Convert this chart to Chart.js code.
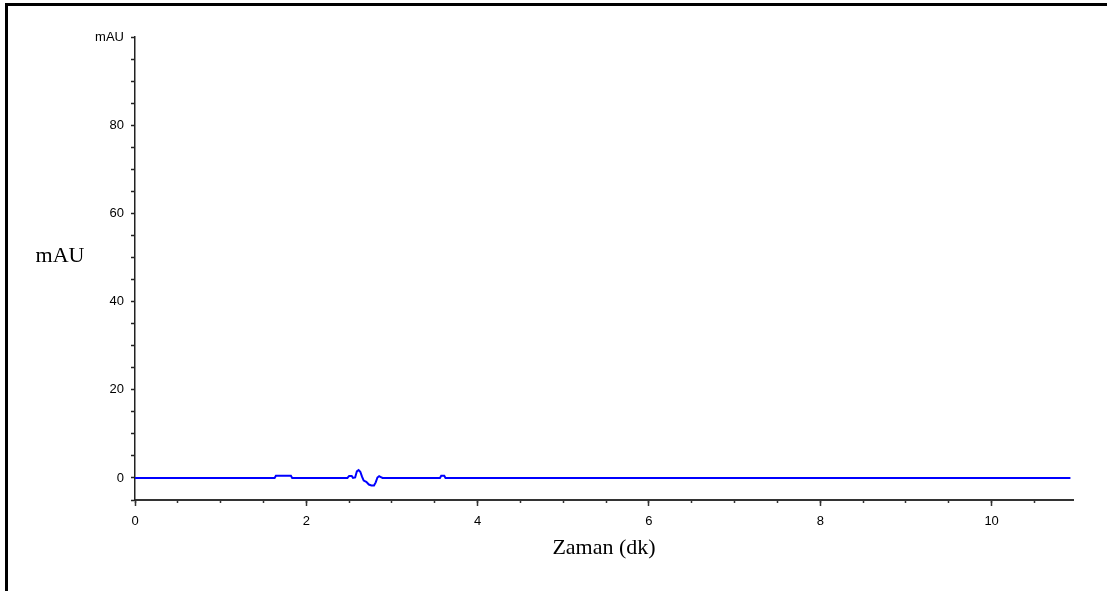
<!DOCTYPE html>
<html>
<head>
<meta charset="utf-8">
<title>Kromatogram</title>
<script src="https://cdn.jsdelivr.net/npm/chart.js@4.4.1/dist/chart.umd.min.js"></script>
<style>
  html, body { margin: 0; padding: 0; background: #fff; }
  #wrap { position: relative; width: 1107px; height: 591px; overflow: hidden; }
  #frame {
    position: absolute; left: 5px; top: 3px; right: -10px; bottom: -10px;
    border-top: 3px solid #000; border-left: 3px solid #000;
  }
  #chart { position: absolute; left: 0; top: 0; }
</style>
</head>
<body>
<div id="wrap">
  <div id="frame"></div>
  <canvas id="chart" width="1107" height="591"></canvas>
</div>
<script>
// ---------- data ----------
const timeMin = [
  0, 1.63, 1.645, 1.82, 1.835, 2.48, 2.50, 2.53, 2.545, 2.57,
  2.59, 2.61, 2.63, 2.65, 2.67, 2.70, 2.73, 2.76, 2.79, 2.81,
  2.83, 2.85, 2.87, 2.89, 3.56, 3.575, 3.61, 3.625, 10.92
];
const signalMau = [
  0, 0, 0.5, 0.5, 0, 0, 0.45, 0.45, 0, 0.1,
  1.5, 1.8, 1.4, 0.3, -0.6, -0.9, -1.5, -1.7, -1.7, -1.0,
  0.1, 0.4, 0.2, 0, 0, 0.5, 0.5, 0, 0
];
const xMin = 0;
const xMax = 10.95;
const yMin = -5;
const yMax = 100;
const yLabelStep = 20;
const xLabelStep = 2;

// ---------- helpers ----------
const points = timeMin.map((t, i) => ({ x: t, y: signalMau[i] }));

// horizontal y axis title (the chart keeps "mAU" upright, left of the axis)
const sideTitle = {
  id: 'sideTitle',
  afterDraw(chart) {
    const ctx = chart.ctx;
    ctx.save();
    ctx.font = '22px "Liberation Serif", "Times New Roman", serif';
    ctx.fillStyle = '#000';
    ctx.textAlign = 'center';
    ctx.textBaseline = 'middle';
    ctx.fillText('mAU', 60, 256);
    ctx.restore();
  }
};

const tickFont = { family: '"Liberation Sans", Arial, sans-serif', size: 13 };

new Chart(document.getElementById('chart'), {
  type: 'line',
  data: {
    datasets: [{
      data: points,
      borderColor: '#0000ff',
      borderWidth: 2,
      pointRadius: 0,
      tension: 0,
      fill: false
    }]
  },
  options: {
    responsive: false,
    animation: false,
    layout: { padding: { left: 0, right: 34, top: 37, bottom: 0 } },
    plugins: { legend: { display: false }, tooltip: { enabled: false } },
    scales: {
      x: {
        type: 'linear',
        position: 'bottom',
        min: xMin,
        max: xMax,
        border: { display: true, color: '#333', width: 2 },
        grid: { drawOnChartArea: false, tickLength: 3, color: '#333', tickWidth: 1.5 },
        ticks: { stepSize: 0.5, includeBounds: false, display: false },
        afterFit(scale) { scale.height = 0; }
      },
      x2: {
        type: 'linear',
        position: 'bottom',
        min: xMin,
        max: xMax,
        border: { display: true, color: '#333', width: 2 },
        grid: { drawOnChartArea: false, tickLength: 6, color: '#333', tickWidth: 1.5 },
        ticks: {
          stepSize: xLabelStep,
          includeBounds: false,
          maxRotation: 0,
          autoSkip: false,
          padding: 8,
          color: '#000',
          font: tickFont
        },
        title: {
          display: true,
          text: 'Zaman (dk)',
          color: '#000',
          font: { family: '"Liberation Serif", "Times New Roman", serif', size: 22 },
          padding: { top: 0, bottom: 30 }
        },
        afterFit(scale) { scale.height = 91; }
      },
      y: {
        type: 'linear',
        min: yMin,
        max: yMax,
        border: { display: true, color: '#222', width: 1.5 },
        grid: { drawOnChartArea: false, tickLength: 4, color: '#222', tickWidth: 1.5 },
        ticks: {
          stepSize: 5,
          includeBounds: false,
          autoSkip: false,
          padding: 7,
          color: '#000',
          font: tickFont,
          callback(v) {
            if (v === yMax) return 'mAU';
            return v % yLabelStep === 0 ? String(v) : '';
          }
        },
        afterFit(scale) { scale.width = 135; }
      }
    }
  },
  plugins: [sideTitle]
});
</script>
</body>
</html>
